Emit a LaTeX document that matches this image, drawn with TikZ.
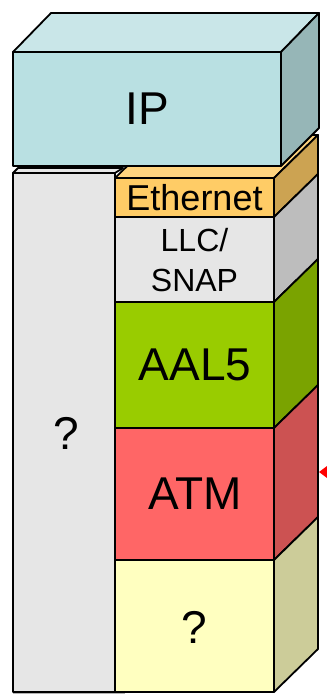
\documentclass[tikz,border=0pt]{standalone}
\usepackage{fontspec}
\setmainfont{Liberation Sans}
\begin{document}
\begin{tikzpicture}[x=1pt,y=-1pt,
  face/.style={draw=black,line width=1.8pt,line join=round},
  lbl/.style={inner sep=0pt,text=black,align=center}]
\definecolor{ipF}{HTML}{B9E0E2}\definecolor{ipT}{HTML}{C9E6E8}\definecolor{ipR}{HTML}{96B6B7}
\definecolor{ethF}{HTML}{FFCC66}\definecolor{ethT}{HTML}{FFD47F}\definecolor{ethR}{HTML}{CCA352}
\definecolor{llcF}{HTML}{E6E6E6}\definecolor{llcR}{HTML}{BDBDBD}
\definecolor{aalF}{HTML}{99CC00}\definecolor{aalR}{HTML}{7AA300}
\definecolor{atmF}{HTML}{FF6666}\definecolor{atmR}{HTML}{CC5252}
\definecolor{phyF}{HTML}{FFFFC0}\definecolor{phyR}{HTML}{CCCC99}
\definecolor{colF}{HTML}{E6E6E6}
\useasboundingbox (0,0) rectangle (326,700);
% left column
\draw[gray!60,line width=1.5pt] (13,693) -- (125,693);
\draw[face,fill=colF] (13,173) -- (18,168) -- (123,168) -- (115,173) -- cycle;
\draw[face,fill=colF] (13,173) rectangle (115,692);
% main stack: top face
\draw[face,fill=ethT] (115,178) -- (159,135) -- (318,135) -- (274,178) -- cycle;
% right faces
\draw[face,fill=ethR] (274,178) -- (318,135) -- (318,174) -- (274,217) -- cycle;
\draw[face,fill=llcR] (274,217) -- (318,174) -- (318,259) -- (274,302) -- cycle;
\draw[face,fill=aalR] (274,302) -- (318,259) -- (318,385) -- (274,428) -- cycle;
\draw[face,fill=atmR] (274,428) -- (318,385) -- (318,517) -- (274,560) -- cycle;
\draw[face,fill=phyR] (274,560) -- (318,517) -- (318,649) -- (274,692) -- cycle;
% front faces
\draw[face,fill=ethF] (115,178) rectangle (274,217);
\draw[face,fill=llcF] (115,217) rectangle (274,302);
\draw[face,fill=aalF] (115,302) rectangle (274,428);
\draw[face,fill=atmF] (115,428) rectangle (274,560);
\draw[face,fill=phyF] (115,560) rectangle (274,692);
% IP box
\draw[face,fill=ipT] (13,52) -- (51,13) -- (319,13) -- (281,52) -- cycle;
\draw[face,fill=ipR] (281,52) -- (319,13) -- (319,128) -- (281,166) -- cycle;
\draw[face,fill=ipF] (13,52) rectangle (281,166);
% labels
\node[lbl,font=\fontsize{46}{50}\selectfont] (ip) at (147,109) {IP};
\node[lbl,font=\fontsize{36}{40}\selectfont] (eth) at (194.5,198) {Ethernet};
\node[lbl,font=\fontsize{32}{40}\selectfont] (llc) at (194.5,260) {LLC/\\SNAP};
\node[lbl,font=\fontsize{46}{50}\selectfont] (aal) at (195,365) {AAL5};
\node[lbl,font=\fontsize{46}{50}\selectfont] (atm) at (195,494) {ATM};
\node[lbl,font=\fontsize{46}{50}\selectfont] (phy) at (194.5,627) {?};
\node[lbl,font=\fontsize{46}{50}\selectfont] (col) at (66,433) {?};
% red arrow tip
\coordinate (tip) at (319,472);
\fill[red] (tip) -- ++(8,-6) -- ++(0,12) -- cycle;
\end{tikzpicture}
\end{document}
